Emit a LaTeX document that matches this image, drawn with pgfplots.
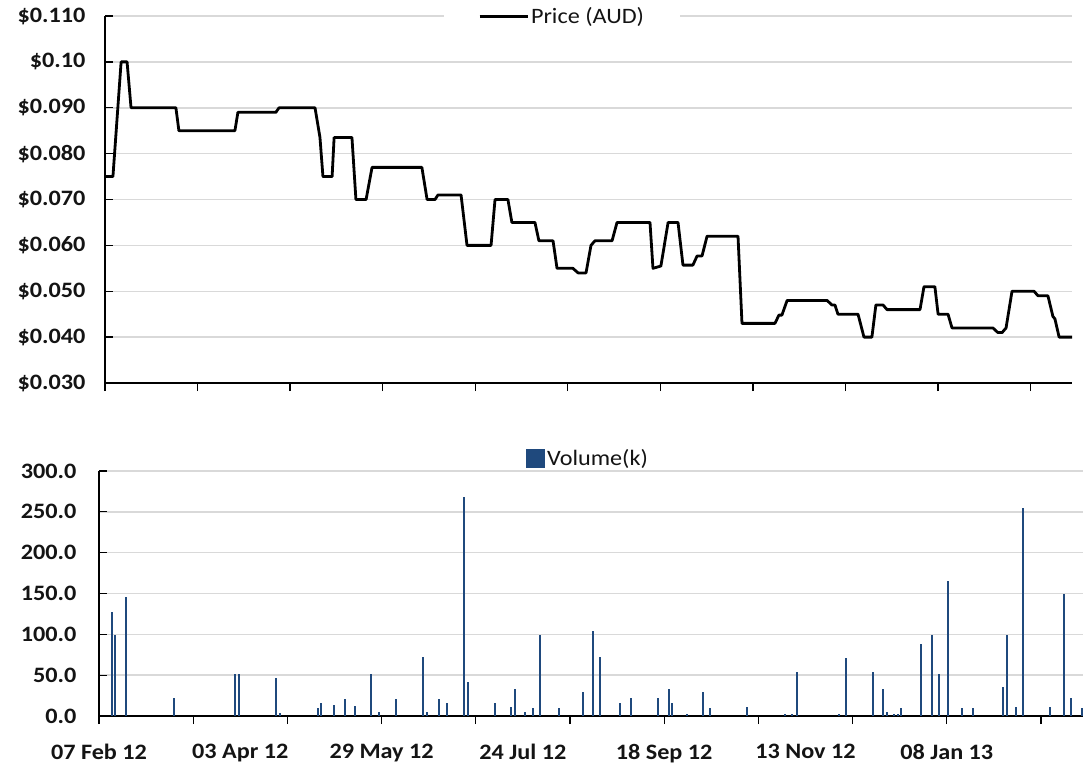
\documentclass[border=0pt]{standalone}
\usepackage{fontspec}
\setmainfont{Carlito}[FakeStretch=1.1]
\usepackage{pgfplots}
\pgfplotsset{compat=1.18}
\definecolor{gridc}{RGB}{217,217,217}
\definecolor{volc}{RGB}{31,73,125}
\definecolor{txt}{RGB}{20,20,20}

\pgfplotstableread{
d p
0 0.075
3.2 0.075
6.5 0.100
8.9 0.100
10.5 0.090
28.6 0.090
29.8 0.085
52.4 0.085
53.6 0.089
68.9 0.089
70.2 0.090
84.7 0.090
86.7 0.0835
87.9 0.075
91.6 0.075
92.4 0.0835
99.6 0.0835
101.2 0.070
105.3 0.070
107.7 0.077
127.8 0.077
129.9 0.070
133.1 0.070
134.3 0.071
143.6 0.071
146.0 0.060
155.7 0.060
157.3 0.070
162.5 0.070
164.1 0.065
173.4 0.065
175.0 0.061
180.7 0.061
182.3 0.055
188.7 0.055
190.8 0.054
194.0 0.054
196.0 0.060
197.6 0.061
204.5 0.061
206.5 0.065
219.8 0.065
221.0 0.055
224.2 0.0555
227.1 0.065
231.1 0.065
233.1 0.0557
237.1 0.0557
238.8 0.0577
240.8 0.0577
242.8 0.062
255.3 0.062
256.9 0.043
270.2 0.043
271.8 0.0448
273.0 0.0448
275.1 0.048
291.2 0.048
293.2 0.047
294.4 0.047
295.6 0.045
303.7 0.045
306.1 0.040
309.3 0.040
310.9 0.047
313.8 0.047
315.4 0.046
328.7 0.046
330.3 0.051
334.7 0.051
336.0 0.045
340.0 0.045
341.6 0.042
358.1 0.042
360.1 0.041
361.8 0.041
363.4 0.042
365.8 0.050
374.7 0.050
376.3 0.049
380.3 0.049
382.3 0.0445
383.1 0.044
384.8 0.040
390 0.040
}\pricetable

\pgfplotstableread{
d v
5.0 127.8
6.5 99.2
10.7 145.3
29.8 22.4
54.0 51
55.5 51
70.3 46.5
71.9 3.3
86.7 9.4
88.1 15.9
93.1 13.5
97.4 20.4
101.6 11.8
107.9 51
110.9 4.9
117.9 20.4
128.5 72.7
130.0 4.9
134.9 20.4
137.8 15.5
144.8 267.8
146.4 42
157.0 15.5
163.3 11.4
164.8 33.5
169.0 4.9
171.9 9.4
174.8 99.2
182.4 9.4
191.7 29
195.9 103.7
198.7 72.7
206.5 15.5
210.9 22.4
221.6 22.4
225.8 33.5
227.2 15.5
232.9 2.4
239.2 29
242.1 9.4
256.9 11.4
271.9 2.4
274.8 2.4
276.8 53.5
293.2 2.4
296.0 70.6
306.7 53.5
310.9 33.5
312.3 4.9
315.1 2.4
316.6 2.4
318.0 9.4
325.8 88.2
330.0 99.2
332.8 51
336.4 164.9
342.0 9.4
346.4 9.4
358.3 35.5
359.8 99.2
363.3 11.4
366.1 254.7
376.8 11.4
382.5 149.8
385.3 22.4
389.6 9.4
}\voltable

\pgfplotsset{
  common/.style={
    scale only axis,
    xmin=0, xmax=390,
    axis x line*=bottom, axis y line*=left,
    axis line style={-, black, line width=1.3pt},
    ymajorgrids, grid style={gridc, line width=1.5pt},
    xtick={0,37.333,74.667,112,149.333,186.667,224,261.333,298.667,336,373.333},
    xticklabels={},
    major tick length=8pt,
    tick style={black, line width=1.3pt},
    xtick style={yshift=-8pt},
    ticklabel style={font=\fontsize{22}{26}\selectfont\bfseries, text=txt},
    legend style={draw=none, fill=white, anchor=center,
      font=\fontsize{22}{26}\selectfont, text=txt,
      inner xsep=34pt, inner ysep=1pt},
  }
}

\begin{document}
\begin{tikzpicture}[x=1pt,y=1pt]
\useasboundingbox (0,0) rectangle (1086,-765);
\begin{axis}[common,
  at={(105pt,-383pt)}, anchor=south west,
  width=967pt, height=367pt,
  ymin=0.03, ymax=0.11,
  ytick={0.03,0.04,0.05,0.06,0.07,0.08,0.09,0.10,0.11},
  yticklabels={\$0.030,\$0.040,\$0.050,\$0.060,\$0.070,\$0.080,\$0.090,\$0.10,\$0.110},
  yticklabel style={xshift=-16pt},
  legend style={at={(0.4726,1.0)}},
]
\addplot[black, line width=2.8pt, line join=round,
  legend image code/.code={\draw[black, line width=3pt] (0pt,0pt) -- (48pt,0pt);}]
  table[x=d, y=p] {\pricetable};
\addlegendentry{Price (AUD)}
\end{axis}

\begin{axis}[common,
  at={(99pt,-716pt)}, anchor=south west,
  width=984pt, height=245pt,
  ymin=0, ymax=300,
  ytick={0,50,100,150,200,250,300},
  yticklabels={0.0,50.0,100.0,150.0,200.0,250.0,300.0},
  yticklabel style={xshift=-19pt},
  extra x ticks={0,56,112,168,224,280,336},
  extra x tick labels={07 Feb 12,03 Apr 12,29 May 12,24 Jul 12,18 Sep 12,13 Nov 12,08 Jan 13},
  extra x tick style={major tick length=0pt, grid=none},
  xticklabel style={yshift=-25pt},
  legend style={at={(0.497,1.053)}},
]
\addplot[ycomb, volc, line width=2pt,
  legend image code/.code={\fill[volc] (0pt,-8.5pt) rectangle (17pt,8.5pt);}]
  table[x=d, y=v] {\voltable};
\addlegendentry{Volume(k)}
\end{axis}
\end{tikzpicture}
\end{document}
